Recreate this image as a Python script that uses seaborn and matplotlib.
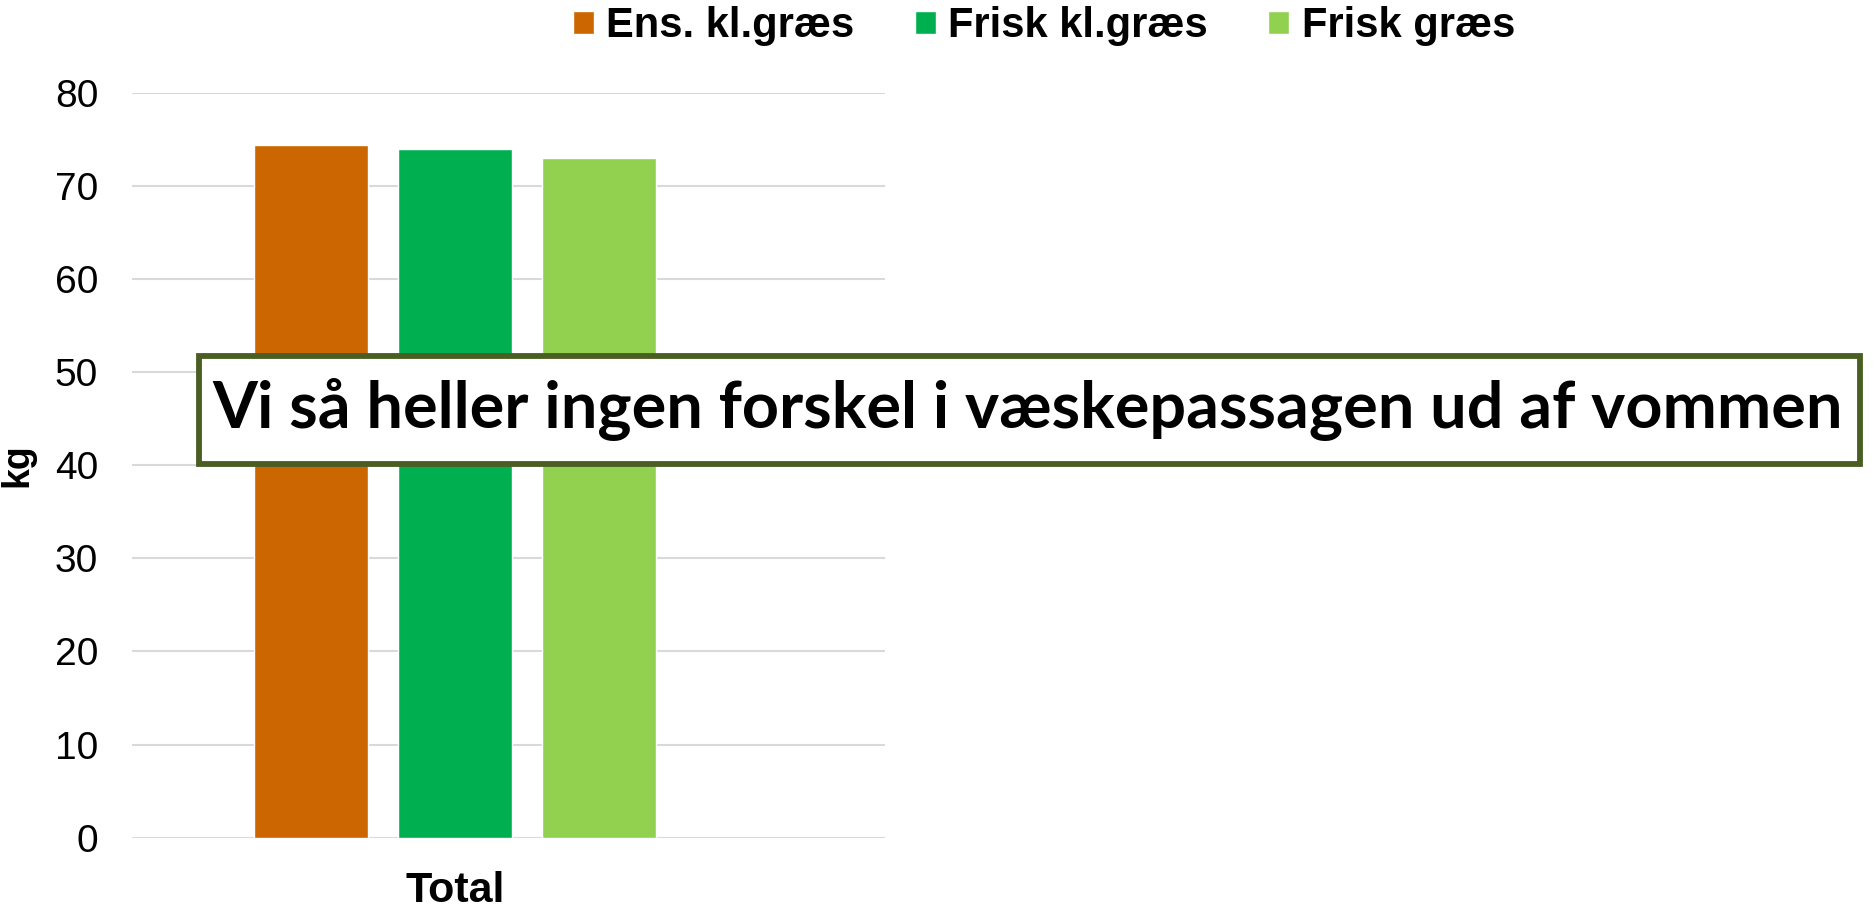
import pandas as pd
import seaborn as sns
import matplotlib.pyplot as plt
from matplotlib.patches import Rectangle

# --- data ---
categories = ["Total"]
series = ["Ens. kl.græs", "Frisk kl.græs", "Frisk græs"]
values = [74.5, 74.0, 73.0]
colors = {"Ens. kl.græs": "#CC6600", "Frisk kl.græs": "#00B050", "Frisk græs": "#92D050"}
yticks = [0, 10, 20, 30, 40, 50, 60, 70, 80]
note = "Vi så heller ingen forskel i væskepassagen ud af vommen"

df = pd.DataFrame({"Kategori": categories * len(series), "Serie": series, "kg": values})

sns.set_style("white")
plt.rcParams['font.family'] = ['Liberation Sans', 'DejaVu Sans']
plt.rcParams['text.color'] = 'black'
plt.rcParams['xtick.color'] = 'black'
plt.rcParams['ytick.color'] = 'black'
plt.rcParams['axes.labelcolor'] = 'black'

fig = plt.figure(figsize=(18.76, 9.08), dpi=100)
ax = fig.add_axes([0.0701, 0.0776, 0.4018, 0.8196])

sns.barplot(data=df, x="Kategori", y="kg", hue="Serie", hue_order=series,
            palette=colors, width=0.8, gap=0.21, saturation=1, ax=ax, zorder=3)

ax.set_ylim(0, 80)
ax.set_xlim(-0.599, 0.797)
ax.set_yticks(yticks)
ax.yaxis.grid(True, color="#d9d9d9", linewidth=1.5, zorder=0)
ax.xaxis.grid(False)
for s in ax.spines.values():
    s.set_visible(False)
ax.tick_params(axis="y", length=0, labelsize=28, pad=24)
ax.tick_params(axis="x", length=0, labelsize=31, pad=24)
for lab in ax.get_xticklabels():
    lab.set_fontweight("bold")
ax.set_xlabel("")
ax.set_ylabel("kg", fontsize=27, fontweight="bold")
ax.yaxis.set_label_coords(-0.127, 0.5)

handles, labels = ax.get_legend_handles_labels()
ax.get_legend().remove()
fig.legend(handles, labels, loc="center", bbox_to_anchor=(0.5565, 0.971), ncol=3,
           frameon=False, prop={"size": 30, "weight": "bold"},
           handlelength=0.5, handleheight=0.5, handletextpad=0.3, columnspacing=1.45)

# tekstboks
fig.add_artist(Rectangle((0.1059, 0.489), 0.9915 - 0.1059, 0.6074 - 0.489,
                         transform=fig.transFigure, facecolor="white",
                         edgecolor="#4A5E23", linewidth=4.2, zorder=10))
txt = fig.text(0.5477, 0.5485, note, ha="center", va="center", fontsize=40,
               family="Lato", fontweight="bold", zorder=11)
fig.canvas.draw()
w = txt.get_window_extent().width
txt.set_fontsize(40 * 1629 / w)

fig.savefig("out.png", dpi=100)
